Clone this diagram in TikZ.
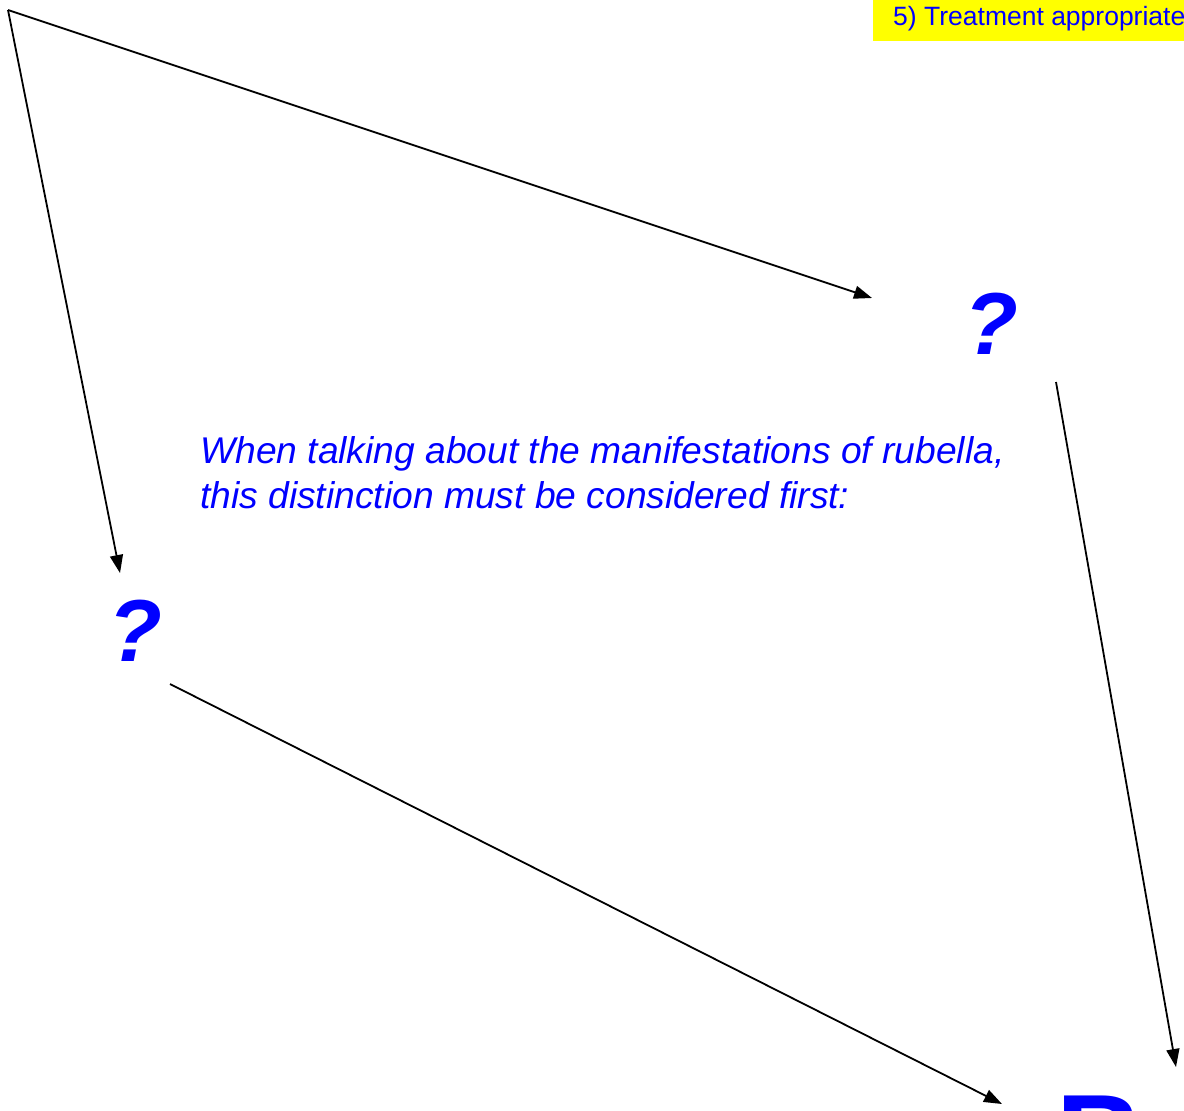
\documentclass[tikz,border=0pt]{standalone}
\usepackage{fontspec}
\setmainfont{Liberation Sans}
\usetikzlibrary{arrows.meta}
\definecolor{qblue}{RGB}{0,0,255}
\definecolor{qyellow}{RGB}{255,255,0}
\tikzset{
  conn/.style={draw=black, line width=1.8pt, -{Triangle[length=18pt,width=13pt]}},
  qmark/.style={text=qblue, font=\fontsize{88}{88}\selectfont\bfseries\itshape, inner sep=0pt, anchor=base},
  note/.style={text=qblue, font=\fontsize{37.2}{45}\selectfont\itshape, inner sep=0pt, anchor=base west, align=left},
  tag/.style={fill=qyellow, inner sep=0pt, anchor=north west, minimum height=41pt, minimum width=330pt},
  tagtext/.style={text=qblue, font=\fontsize{26.5}{26.5}\selectfont, inner sep=0pt, anchor=base west},
}
\begin{document}
\begin{tikzpicture}[x=1pt,y=-1pt]
\useasboundingbox (0,0) rectangle (1184,1111);
\clip (0,0) rectangle (1184,1111);
\fill[white] (0,0) rectangle (1184,1111);
\node[tag] (tag) at (873,0) {};
\node[tagtext] (tagtext) at (893,25) {5) Treatment appropriate};
\coordinate (origin) at (8,10);
\node[qmark] (q1) at (991,354) {?};
\node[qmark] (q2) at (135,661) {?};
\node[text=qblue, font=\fontsize{120}{120}\selectfont\bfseries, inner sep=0pt, anchor=base] (bb) at (1100,1178) {B};
\coordinate (q1in) at (872,298);
\coordinate (q2in) at (120,573);
\coordinate (q1out) at (1056,382);
\coordinate (q2out) at (170,684);
\coordinate (b1in) at (1176,1067);
\coordinate (b2in) at (1002,1104);
\node[note] (txt) at (200,508) {When talking about the manifestations of rubella,\\this distinction must be considered first:};
\draw[conn] (origin) -- (q1in);
\draw[conn] (origin) -- (q2in);
\draw[conn] (q1out) -- (b1in);
\draw[conn] (q2out) -- (b2in);
\end{tikzpicture}
\end{document}
